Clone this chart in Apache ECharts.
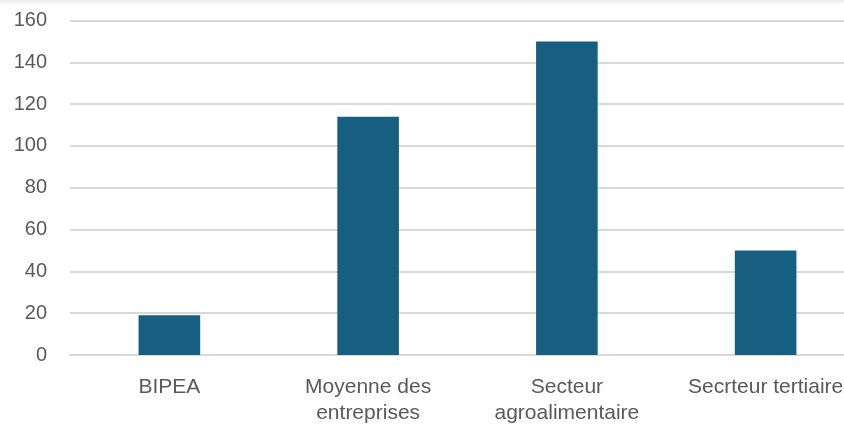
<!DOCTYPE html>
<html><head><meta charset="utf-8">
<script src="https://cdn.jsdelivr.net/npm/echarts@6/dist/echarts.min.js"></script>
<style>html,body{margin:0;padding:0;background:#fff;}#c{width:844px;height:425px;}</style>
</head><body><div id="c"></div>
<script>
const categories = ["BIPEA", "Moyenne des\nentreprises", "Secteur\nagroalimentaire", "Secrteur tertiaire"];
const values = [19, 114, 150, 50];
const yMin = 0, yMax = 160, yStep = 20;

const chart = echarts.init(document.getElementById('c'), null, {renderer: 'canvas'});
chart.setOption({
  animation: false,
  backgroundColor: '#ffffff',
  graphic: [{
    type: 'rect', left: 0, top: 0, shape: {width: 844, height: 5}, silent: true,
    style: {fill: new echarts.graphic.LinearGradient(0, 0, 0, 1, [{offset: 0, color: '#ececec'}, {offset: 1, color: '#ffffff'}])}
  }],
  grid: {left: 70, width: 795, top: 20.5, bottom: 70, containLabel: false, outerBoundsMode: 'none'},
  xAxis: {
    type: 'category', data: categories,
    axisTick: {show: false},
    axisLine: {lineStyle: {color: '#d9d9d9', width: 2}},
    axisLabel: {color: '#595959', fontSize: 21, fontFamily: 'Liberation Sans, Arial, sans-serif', margin: 19, lineHeight: 26, interval: 0}
  },
  yAxis: {
    type: 'value', min: yMin, max: yMax, interval: yStep,
    axisLine: {show: false}, axisTick: {show: false},
    splitLine: {lineStyle: {color: '#d9d9d9', width: 2}},
    axisLabel: {color: '#595959', fontSize: 20, fontFamily: 'Liberation Sans, Arial, sans-serif', margin: 23}
  },
  series: [{
    type: 'bar', data: values, barWidth: '31%',
    itemStyle: {color: '#175F80'}
  }]
});
</script></body></html>
